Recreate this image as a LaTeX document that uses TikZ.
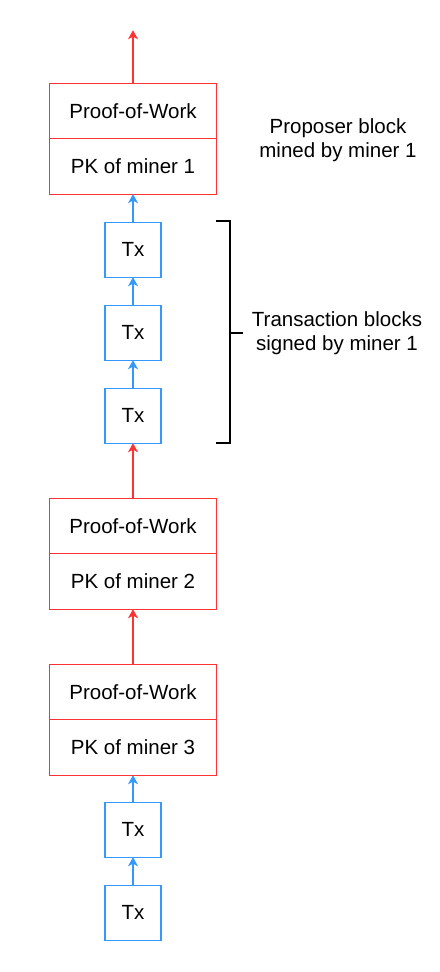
\documentclass[tikz,border=0pt]{standalone}
\usepackage{fontspec}
\setmainfont{Liberation Sans}
\usetikzlibrary{positioning,arrows.meta}
\definecolor{powred}{HTML}{FF3333}
\definecolor{txblue}{HTML}{3399FF}
\tikzset{
  powbox/.style={draw=powred, line width=0.6pt, minimum width=83.5pt, minimum height=27.75pt, inner sep=0pt, outer sep=0pt},
  txbox/.style={draw=txblue, line width=0.6pt, minimum width=28pt, minimum height=27.5pt, inner sep=0pt, outer sep=0pt},
  powlink/.style={draw=powred, line width=0.6pt, -{Stealth[length=4.5pt,width=5pt,inset=1.3pt]}},
  txlink/.style={draw=txblue, line width=0.6pt, -{Stealth[length=4.5pt,width=5pt,inset=1.3pt]}},
  brace/.style={draw=black, line width=0.9pt},
  note/.style={align=center, inner sep=0pt}
}

\begin{document}
\begin{tikzpicture}[font=\fontsize{10.25}{12}\selectfont]
  \useasboundingbox (0,0) rectangle (219.5pt,-486pt);
  % proposer block of miner 1
  \node[powbox] (pow1) at (66.5pt,-55.5pt) {Proof-of-Work};
  \node[powbox, below=0pt of pow1] (pk1) {PK of miner 1};
  \coordinate[above=26.5pt of pow1] (head);
  % transaction blocks signed by miner 1
  \node[txbox, below=14pt of pk1] (tx1) {Tx};
  \node[txbox, below=14pt of tx1] (tx2) {Tx};
  \node[txbox, below=14pt of tx2] (tx3) {Tx};
  % proposer block of miner 2
  \node[powbox, below=27.5pt of tx3] (pow2) {Proof-of-Work};
  \node[powbox, below=0pt of pow2] (pk2) {PK of miner 2};
  % proposer block of miner 3
  \node[powbox, below=27.5pt of pk2] (pow3) {Proof-of-Work};
  \node[powbox, below=0pt of pow3] (pk3) {PK of miner 3};
  \node[txbox, below=13.5pt of pk3] (tx4) {Tx};
  \node[txbox, below=14pt of tx4] (tx5) {Tx};

  \draw[powlink] (pow1) -- (head);
  \draw[txlink] (tx1) -- (pk1);
  \draw[txlink] (tx2) -- (tx1);
  \draw[txlink] (tx3) -- (tx2);
  \draw[powlink] (pow2) -- (tx3);
  \draw[powlink] (pow3) -- (pk2);
  \draw[txlink] (tx4) -- (pk3);
  \draw[txlink] (tx5) -- (tx4);

  % bracket
  \draw[brace] ([xshift=41.5pt,yshift=0.5pt]tx1.north) -- ([xshift=48.5pt,yshift=0.5pt]tx1.north)
    -- ([xshift=48.5pt]tx3.south) -- ([xshift=41.5pt]tx3.south);
  \draw[brace] ([xshift=48.5pt]tx2.center) -- ([xshift=55pt]tx2.center) coordinate (mid);

  \node[note] (proposer) at (169pt,-70pt) {Proposer block\\mined by miner 1};
  \node[note] (signed) at (168.5pt,-166.5pt) {Transaction blocks\\signed by miner 1};
\end{tikzpicture}
\end{document}
